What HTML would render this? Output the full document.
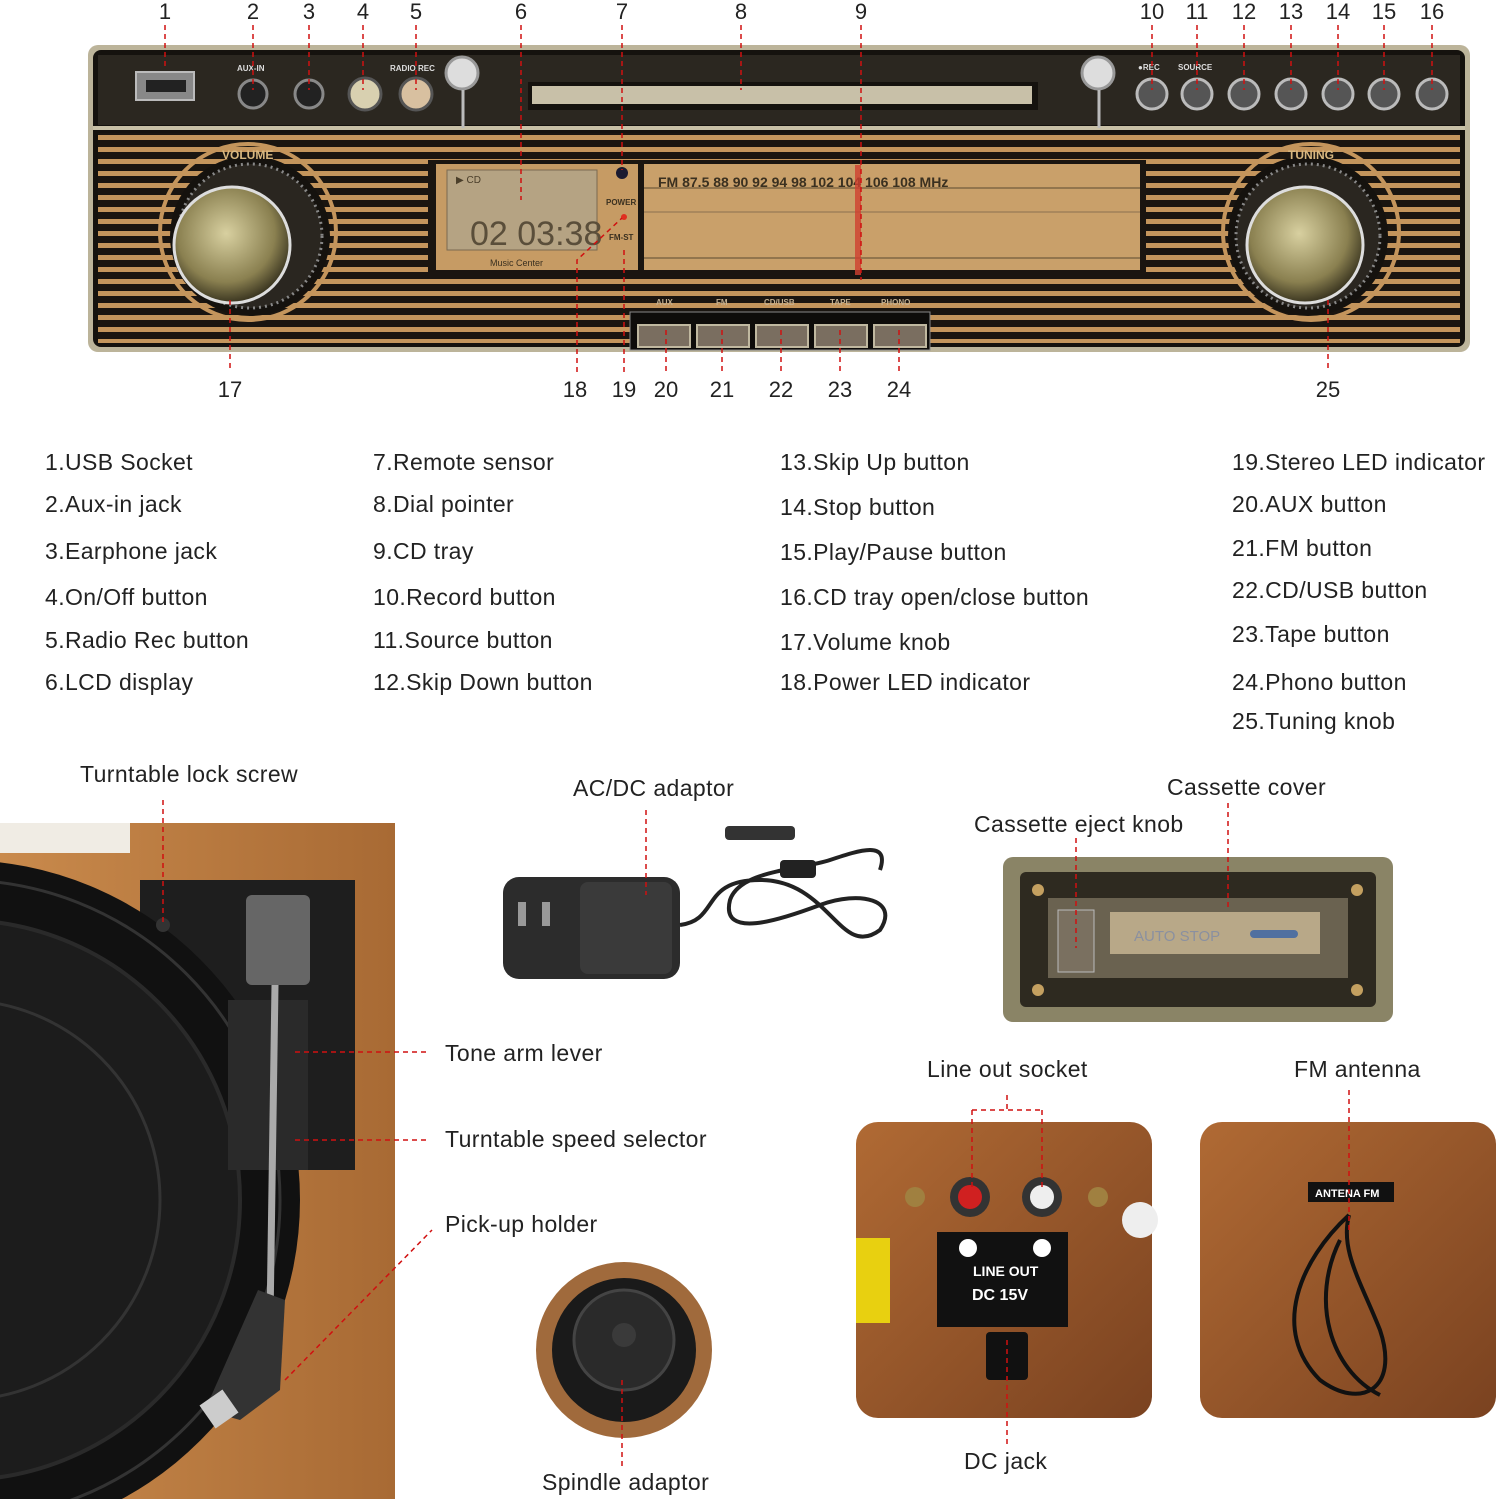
<!DOCTYPE html>
<html><head><meta charset="utf-8">
<style>
html,body{margin:0;padding:0;background:#fff;}
svg{display:block;}
text{font-family:"Liberation Sans",Arial,sans-serif;}
.lab text{letter-spacing:0.4px;}
</style></head><body>
<svg width="1500" height="1499" viewBox="0 0 1500 1499" xmlns="http://www.w3.org/2000/svg">
<defs>
<pattern id="st" width="10" height="12" patternUnits="userSpaceOnUse">
<rect width="10" height="12" fill="#1a1510"/><rect y="3" width="10" height="5" fill="#c4955c"/>
</pattern>
<radialGradient id="knob" cx="45%" cy="40%" r="60%"><stop offset="0" stop-color="#d8d0a0"/><stop offset="0.7" stop-color="#8a8050"/><stop offset="1" stop-color="#3a3520"/></radialGradient>
<linearGradient id="wood" x1="0" y1="0" x2="1" y2="1"><stop offset="0" stop-color="#b06a34"/><stop offset="1" stop-color="#7a4220"/></linearGradient>
<linearGradient id="wood2" x1="0" y1="0" x2="1" y2="0"><stop offset="0" stop-color="#c98a4c"/><stop offset="1" stop-color="#a86a34"/></linearGradient>
</defs>
<rect width="1500" height="1499" fill="#fff"/>

<!-- top panel -->
<rect x="88" y="45" width="1382" height="307" rx="10" fill="#bcb49a"/>
<rect x="93" y="50" width="1372" height="297" rx="8" fill="#15120e"/>
<rect x="98" y="55" width="1362" height="70" fill="#2b2720"/>
<line x1="93" y1="128" x2="1465" y2="128" stroke="#c8c0a6" stroke-width="4"/>
<rect x="98" y="133" width="1362" height="210" fill="url(#st)"/>
<rect x="428" y="160" width="718" height="115" fill="#1a1510"/>
<rect x="436" y="164" width="202" height="106" fill="#c69b64"/>
<rect x="447" y="170" width="150" height="80" fill="#b5a383" stroke="#7a6a50"/>
<text x="470" y="245" font-size="34" fill="#5a4e3a" font-family="Liberation Mono">02 03:38</text>
<text x="456" y="183" font-size="10" fill="#4a3e2a">▶ CD</text>
<text x="490" y="266" font-size="9" fill="#3a3020">Music Center</text>
<text x="606" y="205" font-size="8" fill="#3a3020" font-weight="bold">POWER</text>
<text x="609" y="240" font-size="8" fill="#3a3020" font-weight="bold">FM-ST</text>
<circle cx="622" cy="173" r="6" fill="#1a1a30"/>
<circle cx="624" cy="217" r="3" fill="#e03020"/>
<rect x="644" y="164" width="496" height="106" fill="#c9a06a"/>
<line x1="644" y1="188" x2="1140" y2="188" stroke="#5a4a30"/>
<line x1="644" y1="212" x2="1140" y2="212" stroke="#8a7050"/>
<line x1="644" y1="258" x2="1140" y2="258" stroke="#5a4a30"/>
<text x="658" y="187" font-size="14" fill="#3a3020" font-family="Liberation Mono" font-weight="bold">FM 87.5 88  90 92  94        98   102 104 106  108   MHz</text>
<rect x="855" y="165" width="6" height="110" fill="#d04030" opacity="0.8"/>
<rect x="630" y="312" width="300" height="38" fill="#0e0c0a" stroke="#888" />
<g font-size="8" fill="#c4b090" font-weight="bold"><text x="656" y="305">AUX</text><text x="716" y="305">FM</text><text x="764" y="305">CD/USB</text><text x="830" y="305">TAPE</text><text x="881" y="305">PHONO</text></g>
<g fill="#7a6e60" stroke="#c0b8a0" stroke-width="2">
<rect x="638" y="325" width="52" height="22"/><rect x="697" y="325" width="52" height="22"/><rect x="756" y="325" width="52" height="22"/><rect x="815" y="325" width="52" height="22"/><rect x="874" y="325" width="52" height="22"/></g>
<circle cx="248" cy="232" r="88" fill="none" stroke="#c4955c" stroke-width="4"/>
<circle cx="250" cy="236" r="80" fill="#15120e"/>
<circle cx="250" cy="236" r="72" fill="#2a2620" stroke="#888" stroke-width="3" stroke-dasharray="2 4"/>
<circle cx="232" cy="245" r="58" fill="url(#knob)" stroke="#ddd" stroke-width="3"/>
<text x="222" y="159" font-size="12" fill="#d8b880" font-weight="bold">VOLUME</text>
<circle cx="1311" cy="232" r="88" fill="none" stroke="#c4955c" stroke-width="4"/>
<circle cx="1308" cy="236" r="80" fill="#15120e"/>
<circle cx="1308" cy="236" r="72" fill="#2a2620" stroke="#888" stroke-width="3" stroke-dasharray="2 4"/>
<circle cx="1305" cy="245" r="58" fill="url(#knob)" stroke="#ddd" stroke-width="3"/>
<text x="1288" y="159" font-size="12" fill="#d8b880" font-weight="bold">TUNING</text>
<rect x="136" y="72" width="58" height="28" fill="#888" stroke="#bbb" stroke-width="2"/>
<rect x="146" y="80" width="40" height="12" fill="#222"/>
<circle cx="253" cy="94" r="14" fill="#222" stroke="#888" stroke-width="3"/>
<circle cx="309" cy="94" r="14" fill="#222" stroke="#888" stroke-width="3"/>
<circle cx="365" cy="94" r="16" fill="#d8d0b0" stroke="#555" stroke-width="3"/>
<circle cx="416" cy="94" r="16" fill="#d8c0a0" stroke="#555" stroke-width="3"/>
<circle cx="462" cy="73" r="16" fill="#ddd" stroke="#999" stroke-width="3"/>
<circle cx="1098" cy="73" r="16" fill="#ddd" stroke="#999" stroke-width="3"/>
<line x1="463" y1="90" x2="463" y2="128" stroke="#bbb" stroke-width="3"/><line x1="1099" y1="90" x2="1099" y2="128" stroke="#bbb" stroke-width="3"/>
<rect x="528" y="82" width="510" height="28" fill="#15120e"/>
<rect x="532" y="86" width="500" height="18" fill="#c8c0a8"/>
<g fill="#555" stroke="#bbb" stroke-width="3">
<circle cx="1152" cy="94" r="15"/><circle cx="1197" cy="94" r="15"/><circle cx="1244" cy="94" r="15"/><circle cx="1291" cy="94" r="15"/><circle cx="1338" cy="94" r="15"/><circle cx="1384" cy="94" r="15"/><circle cx="1432" cy="94" r="15"/></g>
<g font-size="8" fill="#ddd" font-weight="bold"><text x="237" y="71">AUX-IN</text><text x="390" y="71">RADIO REC</text><text x="1138" y="70">●REC</text><text x="1178" y="70">SOURCE</text></g>

<g font-size="22" fill="#222" text-anchor="middle">
<text x="165" y="19">1</text><text x="253" y="19">2</text><text x="309" y="19">3</text><text x="363" y="19">4</text><text x="416" y="19">5</text><text x="521" y="19">6</text><text x="622" y="19">7</text><text x="741" y="19">8</text><text x="861" y="19">9</text><text x="1152" y="19">10</text><text x="1197" y="19">11</text><text x="1244" y="19">12</text><text x="1291" y="19">13</text><text x="1338" y="19">14</text><text x="1384" y="19">15</text><text x="1432" y="19">16</text>
<text x="230" y="397">17</text><text x="575" y="397">18</text><text x="624" y="397">19</text><text x="666" y="397">20</text><text x="722" y="397">21</text><text x="781" y="397">22</text><text x="840" y="397">23</text><text x="899" y="397">24</text><text x="1328" y="397">25</text>
</g>

<g class="lab" font-size="23" fill="#222">
<text x="45" y="470">1.USB Socket</text><text x="45" y="512">2.Aux-in jack</text><text x="45" y="559">3.Earphone jack</text><text x="45" y="605">4.On/Off button</text><text x="45" y="648">5.Radio Rec button</text><text x="45" y="690">6.LCD display</text>
<text x="373" y="470">7.Remote sensor</text><text x="373" y="512">8.Dial pointer</text><text x="373" y="559">9.CD tray</text><text x="373" y="605">10.Record button</text><text x="373" y="648">11.Source button</text><text x="373" y="690">12.Skip Down button</text>
<text x="780" y="470">13.Skip Up button</text><text x="780" y="515">14.Stop button</text><text x="780" y="560">15.Play/Pause button</text><text x="780" y="605">16.CD tray open/close button</text><text x="780" y="650">17.Volume knob</text><text x="780" y="690">18.Power LED indicator</text>
<text x="1232" y="470">19.Stereo LED indicator</text><text x="1232" y="512">20.AUX button</text><text x="1232" y="556">21.FM button</text><text x="1232" y="598">22.CD/USB button</text><text x="1232" y="642">23.Tape button</text><text x="1232" y="690">24.Phono button</text><text x="1232" y="729">25.Tuning knob</text>
</g>

<!-- turntable photo -->
<rect x="0" y="823" width="395" height="676" fill="url(#wood2)"/>
<rect x="0" y="823" width="130" height="30" fill="#f0ece4"/>
<rect x="140" y="880" width="215" height="290" fill="#1e1e1e"/>
<circle cx="-40" cy="1200" r="340" fill="#111"/>
<circle cx="-40" cy="1200" r="320" fill="none" stroke="#333" stroke-width="3"/>
<circle cx="-40" cy="1200" r="280" fill="#1c1c1c" stroke="#2a2a2a" stroke-width="4"/>
<circle cx="-40" cy="1200" r="200" fill="none" stroke="#333" stroke-width="3"/>
<circle cx="163" cy="925" r="7" fill="#333"/>
<rect x="246" y="895" width="64" height="90" rx="6" fill="#666"/>
<rect x="228" y="1000" width="80" height="170" fill="#2a2a2a"/>
<line x1="275" y1="985" x2="270" y2="1320" stroke="#aaa" stroke-width="7"/>
<polygon points="258,1290 285,1300 280,1390 240,1420 205,1410" fill="#333"/>
<rect x="205" y="1395" width="28" height="28" fill="#ccc" transform="rotate(-35 219 1409)"/>

<g class="lab" font-size="23" fill="#222">
<text x="80" y="782">Turntable lock screw</text>
<text x="445" y="1061">Tone arm lever</text>
<text x="445" y="1147">Turntable speed selector</text>
<text x="445" y="1232">Pick-up holder</text>
<text x="573" y="796">AC/DC adaptor</text>
<text x="1167" y="795">Cassette cover</text>
<text x="974" y="832">Cassette eject knob</text>
<text x="927" y="1077">Line out socket</text>
<text x="1294" y="1077">FM antenna</text>
<text x="964" y="1469">DC jack</text>
<text x="542" y="1490">Spindle adaptor</text>
</g>

<!-- adaptor -->
<rect x="503" y="877" width="177" height="102" rx="16" fill="#2c2c2c"/>
<rect x="580" y="882" width="92" height="92" rx="8" fill="#3a3a3a"/>
<rect x="518" y="902" width="8" height="24" fill="#999"/><rect x="542" y="902" width="8" height="24" fill="#999"/>
<path d="M680 925 C720 920 700 880 760 880 C830 880 840 960 880 930 C900 900 860 890 820 905 C780 920 720 940 730 900 C740 870 800 870 830 860 C860 850 890 840 880 870" fill="none" stroke="#222" stroke-width="4"/>
<rect x="725" y="826" width="70" height="14" rx="4" fill="#333"/>
<rect x="780" y="860" width="36" height="18" rx="4" fill="#222"/>

<!-- cassette -->
<rect x="1003" y="857" width="390" height="165" rx="10" fill="#8a8466"/>
<rect x="1020" y="872" width="356" height="135" rx="6" fill="#2e2a20"/>
<rect x="1048" y="898" width="300" height="80" fill="#6a6250"/>
<rect x="1058" y="910" width="36" height="62" fill="#7a7060" stroke="#bbb"/>
<rect x="1110" y="912" width="210" height="42" fill="#b8a888"/>
<text x="1134" y="941" font-size="15" fill="#8a90a0">AUTO STOP</text>
<rect x="1250" y="930" width="48" height="8" rx="4" fill="#5070a0"/>
<g fill="#c4a060"><circle cx="1038" cy="890" r="6"/><circle cx="1357" cy="890" r="6"/><circle cx="1038" cy="990" r="6"/><circle cx="1357" cy="990" r="6"/></g>

<!-- line out photo -->
<rect x="856" y="1122" width="296" height="296" rx="22" fill="url(#wood)"/>
<rect x="856" y="1238" width="34" height="85" fill="#e8d010"/>
<rect x="937" y="1232" width="131" height="95" fill="#111"/>
<text x="973" y="1276" font-size="14" fill="#fff" font-weight="bold">LINE OUT</text>
<text x="972" y="1300" font-size="16" fill="#fff" font-weight="bold">DC 15V</text>
<circle cx="968" cy="1248" r="9" fill="#fff"/><circle cx="1042" cy="1248" r="9" fill="#fff"/>
<circle cx="970" cy="1197" r="20" fill="#333"/><circle cx="970" cy="1197" r="12" fill="#d02020"/>
<circle cx="1042" cy="1197" r="20" fill="#333"/><circle cx="1042" cy="1197" r="12" fill="#eee"/>
<circle cx="915" cy="1197" r="10" fill="#a08040"/><circle cx="1098" cy="1197" r="10" fill="#a08040"/>
<rect x="986" y="1332" width="42" height="48" rx="4" fill="#111"/>
<circle cx="1140" cy="1220" r="18" fill="#eee"/>

<!-- FM antenna photo -->
<rect x="1200" y="1122" width="296" height="296" rx="22" fill="url(#wood)"/>
<rect x="1308" y="1182" width="86" height="20" fill="#111"/>
<text x="1315" y="1197" font-size="11" fill="#fff" font-weight="bold" font-family="Liberation Serif">ANTENA FM</text>
<path d="M1349 1215 C1300 1260 1270 1330 1320 1380 C1360 1410 1400 1390 1380 1330 C1360 1280 1340 1250 1349 1215 M1340 1240 C1310 1300 1330 1370 1380 1395" fill="none" stroke="#111" stroke-width="4"/>

<!-- spindle -->
<circle cx="624" cy="1350" r="88" fill="#a06a3c"/>
<circle cx="624" cy="1350" r="72" fill="#1a1a1a"/>
<circle cx="624" cy="1340" r="50" fill="#2a2a2a" stroke="#444" stroke-width="3"/>
<circle cx="624" cy="1335" r="12" fill="#3a3a3a"/>

<!-- leaders on top -->
<g stroke="#d01010" stroke-width="1.5" stroke-dasharray="5 4" fill="none">
<path d="M165 25V70M253 25V90M309 25V90M363 25V90M416 25V90M521 25V200M622 25V170M741 25V90M861 25V280M1152 25V90M1197 25V90M1244 25V90M1291 25V90M1338 25V90M1384 25V90M1432 25V90"/>
<path d="M230 300V372M577 372V260L622 218M624 250V372M666 330V372M722 330V372M781 330V372M840 330V372M899 330V372M1328 300V372"/>
<path d="M163 800V925M295 1052H428M295 1140H428M285 1380L432 1230M646 810V895M1076 838V948M1228 803V910M972 1110H1042M972 1110V1190M1042 1110V1190M1007 1095V1110M1007 1340V1445M1349 1090V1230M622 1380V1470"/>
</g>
</svg>
</body></html>
